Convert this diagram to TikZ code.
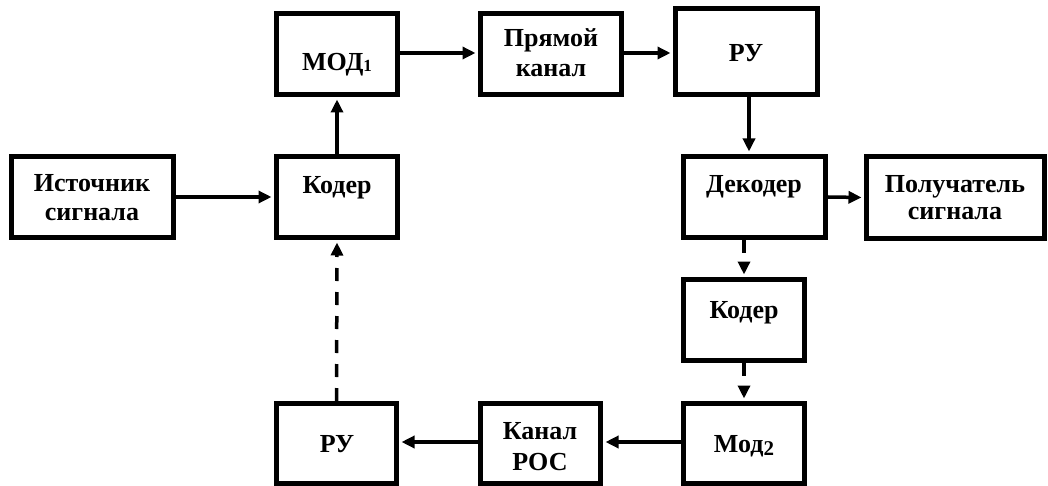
\documentclass[tikz,border=0pt]{standalone}
\usepackage{fontspec}
\setmainfont{Liberation Serif}
\usetikzlibrary{arrows.meta}
% lowered index digit: size, drop, digit
\newcommand{\idx}[3]{\raisebox{-#2}{\fontsize{#1}{#1}\selectfont #3}}
\begin{document}
\begin{tikzpicture}[x=1pt,y=-1pt,
  blk/.style={draw=black, line width=5pt, inner sep=0pt, minimum height=81pt},
  lbl/.style={anchor=base, align=center, inner sep=0pt,
    font=\bfseries\fontsize{26}{30}\selectfont},
  conn/.style={line width=3.5pt, -{Triangle[length=13pt,width=12pt]}, shorten >=2.5pt},
  fb/.style={conn, dash pattern=on 13pt off 11pt}]
\useasboundingbox (0,0) rectangle (1048,486);

% blocks
\node[blk, minimum width=162pt] (ist)  at (92.5,197) {};
\node[blk, minimum width=121pt] (kod1) at (337,197) {};
\node[blk, minimum width=121pt] (mod1) at (337,54) {};
\node[blk, minimum width=141pt] (pk)   at (551,54) {};
\node[blk, minimum width=142pt, minimum height=86pt] (ru1) at (746.5,51.5) {};
\node[blk, minimum width=142pt] (dek)  at (754.5,197) {};
\node[blk, minimum width=178pt] (pol)  at (955.5,197.5) {};
\node[blk, minimum width=121pt] (kod2) at (744,320) {};
\node[blk, minimum width=120pt, minimum height=80pt] (ru2)  at (336.5,443.5) {};
\node[blk, minimum width=120pt, minimum height=80pt] (kros) at (540.5,443.5) {};
\node[blk, minimum width=121pt, minimum height=80pt] (mod2) at (744,443.5) {};

% labels (anchored at the baseline of the last line)
\node[lbl] (t-ist)  at (92,221)  {Источник\\[-1pt]сигнала};
\node[lbl] (t-kod1) at (337,194) {Кодер};
\node[lbl] (t-mod1) at (337,71)  {МОД\idx{17}{1pt}{1}};
\node[lbl] (t-pk)   at (551,77)  {Прямой\\канал};
\node[lbl] (t-ru1)  at (746,62)  {РУ};
\node[lbl] (t-dek)  at (754,193) {Декодер};
\node[lbl] (t-pol)  at (955,220) {Получатель\\[-2pt]сигнала};
\node[lbl] (t-kod2) at (744,318) {Кодер};
\node[lbl] (t-ru2)  at (337,452) {РУ};
\node[lbl] (t-kros) at (540,470) {Канал\\[1pt]РОС};
\node[lbl] (t-mod2) at (744,452) {Мод\idx{21}{3pt}{2}};

% forward path
\draw[conn] (ist.east) -- (kod1.west);
\draw[conn] (kod1.north) -- (mod1.south);
\draw[conn] (mod1.east |- 0,53) -- (pk.west |- 0,53);
\draw[conn] (pk.east |- 0,53) -- (ru1.west |- 0,53);
\draw[conn] (ru1.south -| 749,0) -- (dek.north -| 749,0);
\draw[conn] (dek.east) -- (pol.west);

% feedback path
\draw[fb] (kod2.north |- dek.south) -- (kod2.north);
\draw[fb] (kod2.south) -- (mod2.north);
\draw[conn] (mod2.west |- 0,442) -- (kros.east |- 0,442);
\draw[conn] (kros.west |- 0,442) -- (ru2.east |- 0,442);
\draw[fb] (ru2.north) -- (kod1.south);
\end{tikzpicture}
\end{document}
